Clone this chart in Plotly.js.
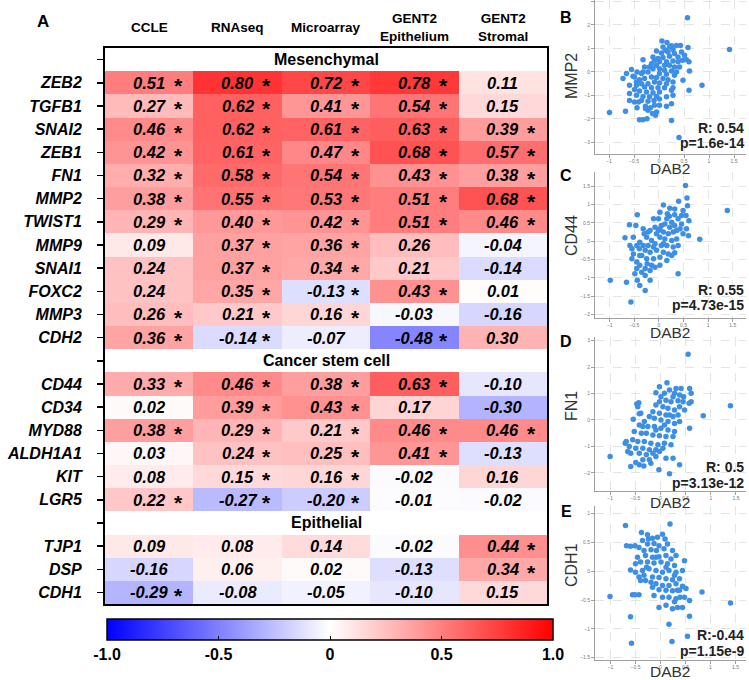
<!DOCTYPE html>
<html>
<head>
<meta charset="utf-8">
<script src="https://cdn.plot.ly/plotly-3.0.1.min.js"></script>
<style>html,body{margin:0;padding:0;background:#fff}#chart{width:749px;height:680px}</style>
</head>
<body>
<div id="chart"></div>
<script>
// ---------------- Heatmap data ----------------
const columns = ["CCLE", "RNAseq", "Microarray", "GENT2<br>Epithelium", "GENT2<br>Stromal"];
const sections = ["Mesenchymal", "Cancer stem cell", "Epithelial"];
const sectionSizes = [12, 6, 3];
const genes = ["ZEB2","TGFB1","SNAI2","ZEB1","FN1","MMP2","TWIST1","MMP9","SNAI1","FOXC2","MMP3","CDH2",
               "CD44","CD34","MYD88","ALDH1A1","KIT","LGR5",
               "TJP1","DSP","CDH1"];
const ccle        = [0.51,0.27,0.46,0.42,0.32,0.38,0.29,0.09,0.24,0.24,0.26,0.36, 0.33,0.02,0.38,0.03,0.08,0.22, 0.09,-0.16,-0.29];
const ccleSig     = [1,1,1,1,1,1,1,0,0,0,1,1, 1,0,1,0,0,1, 0,0,1];
const rnaseq      = [0.80,0.62,0.62,0.61,0.58,0.55,0.40,0.37,0.37,0.35,0.21,-0.14, 0.46,0.39,0.29,0.24,0.15,-0.27, 0.08,0.06,-0.08];
const rnaseqSig   = [1,1,1,1,1,1,1,1,1,1,1,1, 1,1,1,1,1,1, 0,0,0];
const microarray  = [0.72,0.41,0.61,0.47,0.54,0.53,0.42,0.36,0.34,-0.13,0.16,-0.07, 0.38,0.43,0.21,0.25,0.16,-0.20, 0.14,0.02,-0.05];
const microSig    = [1,1,1,1,1,1,1,1,1,1,1,0, 1,1,1,1,1,1, 0,0,0];
const gentEpi     = [0.78,0.54,0.63,0.68,0.43,0.51,0.51,0.26,0.21,0.43,-0.03,-0.48, 0.63,0.17,0.46,0.41,-0.02,-0.01, -0.02,-0.13,-0.10];
const gentEpiSig  = [1,1,1,1,1,1,1,0,0,1,0,1, 1,0,1,1,0,0, 0,0,0];
const gentStromal = [0.11,0.15,0.39,0.57,0.38,0.68,0.46,-0.04,-0.14,0.01,-0.16,0.30, -0.10,-0.30,0.46,-0.13,0.16,-0.02, 0.44,0.34,0.15];
const gentStromalSig = [0,0,1,1,1,1,1,0,0,0,0,0, 0,0,1,0,0,0, 1,1,0];
const colorTicks  = [-1, -0.5, 0, 0.5, 1];
const colorTickText = ["-1.0", "-0.5", "0", "0.5", "1.0"];

// ---------------- Scatter data (DAB2 vs gene) ----------------
const mmp2Pts = [[0.57,2.30],[1.41,0.95],[0.06,1.32],[0.16,1.25],[0.25,1.11],[0.35,1.13],[0.43,1.13],[0.58,1.04],[0.28,0.95],[0.13,0.92],
[-0.05,0.89],[0.05,0.81],[0.18,0.85],[0.31,0.78],[0.45,0.85],[0.51,0.71],[0.38,0.64],[0.21,0.67],[0.08,0.61],[-0.02,0.57],
[-0.09,0.50],[-0.32,0.52],[0.01,0.43],[0.15,0.43],[0.28,0.47],[0.38,0.43],[0.47,0.50],[0.55,0.52],[0.60,0.43],[0.11,0.28],
[0.21,0.28],[0.31,0.21],[0.41,0.21],[-0.05,0.28],[-0.15,0.35],[0.01,0.14],[0.11,0.07],[0.25,0.04],[0.35,0.00],[0.61,0.04],
[-0.12,0.14],[-0.22,0.00],[0.01,-0.07],[0.15,-0.10],[0.31,-0.14],[0.48,-0.35],[-0.55,0.10],[-0.65,-0.07],[-0.44,0.00],[-0.32,0.00],
[-0.49,-0.21],[-0.39,-0.33],[-0.29,-0.28],[-0.15,-0.21],[-0.05,-0.24],[0.08,-0.28],[0.18,-0.33],[-0.09,-0.43],[0.01,-0.47],[0.15,-0.50],
[0.28,-0.43],[-0.22,-0.50],[-0.35,-0.50],[-0.45,-0.57],[-0.59,-0.57],[-0.29,-0.64],[-0.15,-0.67],[-0.02,-0.67],[0.11,-0.67],[0.28,-0.67],
[0.25,-0.78],[-0.49,-0.75],[-0.39,-0.81],[-0.25,-0.85],[-0.12,-0.89],[0.01,-0.85],[-0.59,-0.92],[-0.45,-0.99],[-0.32,-1.04],[-0.19,-1.06],
[-0.05,-1.04],[-0.35,-1.21],[-0.22,-1.25],[-0.10,-1.21],[0.01,-1.15],[0.15,-1.06],[0.28,-0.99],[-0.59,-1.21],[-0.49,-1.28],[-0.41,-1.28],
[-0.27,-1.46],[-0.17,-1.52],[-0.09,-1.42],[0.01,-1.42],[0.15,-1.46],[0.25,-1.35],[-0.05,-1.70],[-0.13,-1.77],[-0.22,-1.63],[0.25,-2.06],
[-0.39,-2.03],[-0.32,-2.03],[-0.24,-1.99],[-0.67,-1.67],[-0.99,-1.73],[0.40,-2.79],[0.86,-0.57],[0.60,-0.78],[-0.27,-1.56],[-0.07,-1.84],
[-0.44,-1.52],[-0.52,-0.18],[-0.45,-0.43],[-0.72,-0.28],[-0.29,0.21],[-0.12,0.64],[-0.35,-0.07],[0.08,1.06],[0.21,1.06],[-0.19,0.21]];

const cd44Pts = [[0.54,1.52],[1.39,0.84],[-0.99,-1.07],[-0.57,-1.66],[-0.66,-1.12],[0.83,0.05],[0.60,0.15],[0.39,-0.89],[-0.28,-1.35],[-0.39,-1.21],
[-0.44,-1.07],[-0.28,-0.94],[-0.18,-1.07],[0.09,0.99],[0.40,1.09],[0.57,1.18],[0.22,0.90],[0.32,0.88],[0.49,0.84],[0.58,0.97],
[-0.44,0.72],[-0.60,0.45],[-0.47,0.43],[-0.69,0.09],[-0.59,-0.12],[-0.55,-0.21],[-0.55,-0.48],[-0.52,-0.35],[-0.45,-0.57],[-0.39,-0.39],
[-0.32,0.34],[-0.30,0.20],[-0.25,0.11],[-0.18,0.29],[-0.11,0.61],[-0.08,0.38],[-0.01,0.61],[0.02,0.34],[0.09,0.25],[0.16,0.61],
[0.17,0.75],[0.26,0.52],[0.32,0.43],[0.39,0.61],[0.46,0.47],[0.55,0.70],[0.61,0.56],[0.56,0.34],[0.43,0.34],[0.29,0.25],
[0.19,0.20],[-0.05,0.20],[0.02,0.11],[0.12,0.06],[0.26,0.02],[0.36,0.06],[-0.15,0.02],[-0.08,-0.07],[0.05,-0.12],[0.16,-0.12],
[0.29,-0.16],[0.39,-0.12],[-0.22,-0.12],[-0.28,-0.25],[-0.18,-0.30],[-0.05,-0.25],[0.09,-0.30],[0.19,-0.35],[0.32,-0.32],[-0.39,-0.03],
[-0.35,-0.39],[-0.25,-0.48],[-0.11,-0.48],[0.02,-0.44],[0.16,-0.53],[0.26,-0.39],[-0.24,-0.62],[-0.15,-0.66],[-0.28,-0.75],[-0.08,-0.71],
[-0.39,-0.66],[-0.45,-0.75],[-0.18,-0.80],[-0.49,-0.89],[0.02,-0.66],[-0.35,-0.85],[0.09,-0.07],[-0.01,0.29],[0.36,0.29],[0.22,0.38],
[0.05,0.43],[-0.22,0.25],[-0.11,-0.16],[-0.45,-0.12],[-0.52,0.11],[-0.32,-0.12],[-0.40,-0.21],[0.21,0.68],[0.02,0.79],[0.32,0.72],
[0.46,0.70],[0.12,0.47],[0.49,0.20]];

const fn1Pts = [[0.55,2.49],[1.39,0.54],[0.85,0.16],[-1.00,-1.38],[0.18,-2.04],[-0.03,-1.89],[0.58,-0.31],[-0.59,-1.76],[-0.49,-1.61],[-0.42,-1.70],
[-0.33,-1.74],[-0.22,-1.51],[-0.09,-1.38],[0.11,-1.45],[0.25,-1.45],[0.38,-1.70],[-0.65,-1.19],[-0.59,-1.26],[-0.70,-0.88],[-0.47,0.60],
[-0.54,0.03],[-0.39,0.25],[-0.09,1.03],[-0.02,1.26],[0.13,1.41],[0.01,0.88],[0.18,1.13],[0.31,1.19],[0.41,1.19],[0.58,1.19],
[0.61,1.01],[0.38,0.94],[0.25,0.88],[0.11,0.75],[0.21,0.69],[0.35,0.73],[0.45,0.69],[0.57,0.63],[0.48,0.38],[-0.02,0.69],
[-0.09,0.57],[0.05,0.50],[0.15,0.44],[0.28,0.38],[0.38,0.50],[-0.15,0.31],[-0.02,0.25],[0.11,0.19],[0.25,0.13],[0.35,0.19],
[-0.22,0.13],[-0.12,0.06],[0.01,0.00],[0.15,-0.06],[0.28,-0.13],[0.38,-0.06],[-0.32,-0.06],[-0.42,-0.19],[-0.25,-0.25],[-0.12,-0.25],
[0.01,-0.31],[0.15,-0.38],[0.28,-0.44],[-0.52,-0.44],[-0.38,-0.50],[-0.28,-0.50],[-0.15,-0.57],[-0.02,-0.60],[0.11,-0.63],[0.25,-0.63],
[-0.68,-0.82],[-0.55,-0.75],[-0.45,-0.82],[-0.32,-0.82],[-0.19,-0.88],[-0.05,-0.94],[0.08,-0.88],[0.21,-0.94],[-0.62,-1.01],[-0.49,-1.07],
[-0.35,-1.07],[-0.22,-1.13],[-0.09,-1.13],[0.05,-1.07],[-0.42,-1.26],[-0.28,-1.32],[-0.15,-1.26],[-0.02,-1.19],[-0.35,-1.51],[-0.19,-1.64],
[-0.45,0.50],[-0.42,0.23],[-0.35,-0.25],[0.08,1.01],[0.28,1.01],[0.46,0.88],[0.61,0.69],[0.08,-0.19],[-0.09,-0.38],[0.18,0.19],
[-0.43,0.65]];

const cdh1Pts = [[-0.70,0.79],[0.19,0.82],[-1.01,-0.44],[-0.60,-0.79],[-0.58,-1.25],[0.23,-1.22],[0.17,-0.92],[0.54,-1.13],[0.58,-0.78],[0.83,-0.36],
[1.40,-0.55],[-0.56,-0.41],[-0.51,-0.41],[-0.43,-0.41],[-0.68,0.44],[-0.60,0.43],[-0.51,0.44],[-0.38,0.67],[-0.26,0.63],[-0.16,0.57],
[-0.06,0.59],[0.09,0.56],[-0.36,0.53],[-0.26,0.47],[-0.13,0.48],[-0.03,0.44],[-0.43,0.41],[-0.33,0.36],[-0.19,0.37],[-0.08,0.36],
[0.07,0.39],[0.14,0.47],[0.24,0.36],[0.31,0.27],[-0.30,0.27],[-0.16,0.24],[-0.03,0.25],[0.11,0.27],[0.21,0.21],[-0.46,0.24],
[-0.40,0.16],[-0.26,0.16],[-0.13,0.14],[0.01,0.16],[0.14,0.13],[0.28,0.10],[0.48,0.18],[-0.60,0.02],[-0.50,-0.02],[-0.36,0.01],
[-0.23,0.04],[-0.09,0.01],[0.04,-0.02],[0.17,0.01],[0.31,-0.02],[0.44,0.01],[-0.43,-0.10],[-0.30,-0.16],[-0.16,-0.10],[-0.03,-0.11],
[0.11,-0.13],[0.24,-0.15],[0.38,-0.13],[-0.09,-0.22],[0.04,-0.25],[0.17,-0.25],[0.31,-0.22],[0.44,-0.26],[-0.03,-0.32],[0.11,-0.33],
[0.24,-0.34],[0.38,-0.33],[-0.13,-0.42],[0.04,-0.45],[0.17,-0.45],[0.31,-0.48],[0.48,-0.45],[-0.03,-0.63],[0.11,-0.59],[0.28,-0.53],
[0.34,-0.63],[0.44,-0.63],[0.58,-0.51],[0.24,-0.65],[-0.19,-0.19],[-0.33,-0.07],[0.11,0.07],[0.28,-0.07],[-0.09,0.24],[-0.50,0.13],
[-0.16,-0.28],[-0.24,0.56],[0.04,0.64],[-0.40,-0.16],[-0.28,0.07],[0.34,-0.33],[0.51,-0.30],[0.39,-0.45]];

const scatterGenes = ["MMP2", "CD44", "FN1", "CDH1"];
const scatterLetters = ["B", "C", "D", "E"];
const scatterR = ["R: 0.54", "R: 0.55", "R: 0.5", "R:-0.44"];
const scatterP = ["p=1.6e-14", "p=4.73e-15", "p=3.13e-12", "p=1.15e-9"];

// ---------------- Build ----------------
const FONT = 'Arial, "Liberation Sans", sans-serif';
const W = 749, H = 680;
const px = v => v / W;
const py = v => 1 - v / H;

const valueCols = [ccle, rnaseq, microarray, gentEpi, gentStromal];
const sigCols = [ccleSig, rnaseqSig, microSig, gentEpiSig, gentStromalSig];

const z = [], rowLabels = [], annotations = [];
let g = 0, row = 0;
sections.forEach((s, si) => {
  z.push(columns.map(() => null));
  rowLabels.push("");
  annotations.push({xref: 'paper', x: px(326), yref: 'y', y: row, text: s, showarrow: false,
    font: {family: FONT, size: 16, color: 'black', weight: 'bold'}, xanchor: 'center', yanchor: 'middle'});
  row++;
  for (let k = 0; k < sectionSizes[si]; k++) {
    z.push(valueCols.map(c => c[g]));
    rowLabels.push(genes[g]);
    valueCols.forEach((c, ci) => {
      annotations.push({xref: 'x', x: ci, yref: 'y', y: row, text: c[g].toFixed(2), showarrow: false,
        font: {family: FONT, size: 16.5, color: 'black', weight: 'bold', style: 'italic'}, xanchor: 'center', yanchor: 'middle'});
      if (sigCols[ci][g]) {
        annotations.push({xref: 'x', x: ci, yref: 'y', y: row, text: '*', showarrow: false, xshift: 29, yshift: -3,
          font: {family: FONT, size: 21, color: 'black', weight: 'bold'}, xanchor: 'center', yanchor: 'middle'});
      }
    });
    g++; row++;
  }
});
const nRows = z.length;

columns.forEach((c, ci) => {
  annotations.push({xref: 'x', x: ci, yref: 'paper', y: py(28), text: c, showarrow: false,
    font: {family: FONT, size: 13.5, color: 'black', weight: 'bold'}, xanchor: 'center', yanchor: 'middle'});
});
annotations.push({xref: 'paper', x: px(43), yref: 'paper', y: py(22), text: 'A', showarrow: false,
  font: {family: FONT, size: 17, color: 'black', weight: 'bold'}, xanchor: 'center', yanchor: 'middle'});

const traces = [{
  type: 'heatmap', x: columns.map((c, i) => i), y: z.map((r, i) => i), z: z,
  zmin: -1, zmax: 1,
  colorscale: [[0, 'rgb(0,0,255)'], [0.5, 'rgb(255,255,255)'], [1, 'rgb(255,0,0)']],
  hoverinfo: 'skip', xaxis: 'x', yaxis: 'y',
  colorbar: {orientation: 'h', x: px(330), xanchor: 'center', y: py(619), yanchor: 'top',
    len: 446, lenmode: 'pixels', thickness: 21, thicknessmode: 'pixels',
    outlinewidth: 1.5, outlinecolor: 'black', xpad: 0, ypad: 0,
    tickvals: colorTicks, ticktext: colorTickText, ticks: 'inside', ticklen: 4, tickcolor: 'black', tickwidth: 1,
    tickfont: {family: FONT, size: 16, color: 'black', weight: 'bold'}}
}];

const layout = {
  width: W, height: H, margin: {l: 0, r: 0, t: 0, b: 0},
  paper_bgcolor: 'white', plot_bgcolor: 'white', showlegend: false,
  font: {family: FONT, color: 'black'},
  xaxis: {domain: [px(105), px(547)], range: [-0.5, columns.length - 0.5], showticklabels: false, ticks: '',
    showline: true, mirror: true, linewidth: 2, linecolor: 'black', showgrid: false, zeroline: false},
  yaxis: {domain: [py(604), py(48)], range: [nRows - 0.5, -0.5], tickvals: rowLabels.map((r, i) => i), ticktext: rowLabels,
    ticks: 'outside', ticklen: 6, tickwidth: 1.5, tickcolor: 'black', ticklabelstandoff: 12,
    showline: true, mirror: true, linewidth: 2, linecolor: 'black', showgrid: false, zeroline: false,
    tickfont: {family: FONT, size: 16, color: 'black', weight: 'bold', style: 'italic'}},
  annotations: annotations
};

const panels = [
  {pts: mmp2Pts, top: 0,   bot: 154, xr: [-1.28, 1.74], yr: [-3.49, 3.06], ydt: 1,   tY: 76,  dY: 168, lY: 17,  rY: 128, pY: 143},
  {pts: cd44Pts, top: 172, bot: 318, xr: [-1.30, 1.77], yr: [-2.10, 1.89], ydt: 0.5, tY: 236, dY: 332, lY: 176, rY: 290, pY: 305},
  {pts: fn1Pts,  top: 337, bot: 491, xr: [-1.30, 1.70], yr: [-2.69, 3.14], ydt: 1,   tY: 406, dY: 502, lY: 341, rY: 467, pY: 483},
  {pts: cdh1Pts, top: 506, bot: 660, xr: [-1.31, 1.71], yr: [-1.54, 1.13], ydt: 0.5, tY: 565, dY: 671, lY: 511, rY: 635, pY: 651}
];
panels.forEach((p, i) => {
  const n = i + 2;
  traces.push({type: 'scatter', mode: 'markers', x: p.pts.map(d => d[0]), y: p.pts.map(d => d[1]),
    xaxis: 'x' + n, yaxis: 'y' + n, hoverinfo: 'skip',
    marker: {size: 5.5, color: '#3d8fe6', line: {width: 0}}});
  const axCommon = {showgrid: true, gridcolor: '#e4e4e4', griddash: 'dash', gridwidth: 1, zeroline: false,
    showline: true, linecolor: '#a0a0a0', linewidth: 1, ticks: 'outside', ticklen: 3, tickcolor: '#a0a0a0',
    tickfont: {family: FONT, size: 5, color: '#777'}};
  layout['xaxis' + n] = Object.assign({}, axCommon, {domain: [px(595), px(746)], range: p.xr, dtick: 0.5, tick0: 0, anchor: 'y' + n,
    ticklabelstandoff: -1});
  layout['yaxis' + n] = Object.assign({}, axCommon, {domain: [py(p.bot), py(p.top)], range: p.yr, dtick: p.ydt, tick0: 0, anchor: 'x' + n});
  annotations.push({xref: 'paper', x: px(571), yref: 'paper', y: py(p.tY), text: scatterGenes[i], textangle: -90, showarrow: false,
    font: {family: FONT, size: 16, color: '#333'}, xanchor: 'center', yanchor: 'middle'});
  annotations.push({xref: 'paper', x: px(670), yref: 'paper', y: py(p.dY), text: 'DAB2', showarrow: false,
    font: {family: FONT, size: 15.5, color: '#333'}, xanchor: 'center', yanchor: 'middle'});
  annotations.push({xref: 'paper', x: px(566), yref: 'paper', y: py(p.lY), text: scatterLetters[i], showarrow: false,
    font: {family: FONT, size: 16, color: 'black', weight: 'bold'}, xanchor: 'center', yanchor: 'middle'});
  annotations.push({xref: 'paper', x: px(746), yref: 'paper', y: py(p.rY), text: scatterR[i], showarrow: false,
    font: {family: FONT, size: 14, color: '#222', weight: 'bold'}, xanchor: 'right', yanchor: 'middle'});
  annotations.push({xref: 'paper', x: px(746), yref: 'paper', y: py(p.pY), text: scatterP[i], showarrow: false,
    font: {family: FONT, size: 14, color: '#222', weight: 'bold'}, xanchor: 'right', yanchor: 'middle'});
});

Plotly.newPlot('chart', traces, layout, {displayModeBar: false, staticPlot: true});
</script>
</body>
</html>
